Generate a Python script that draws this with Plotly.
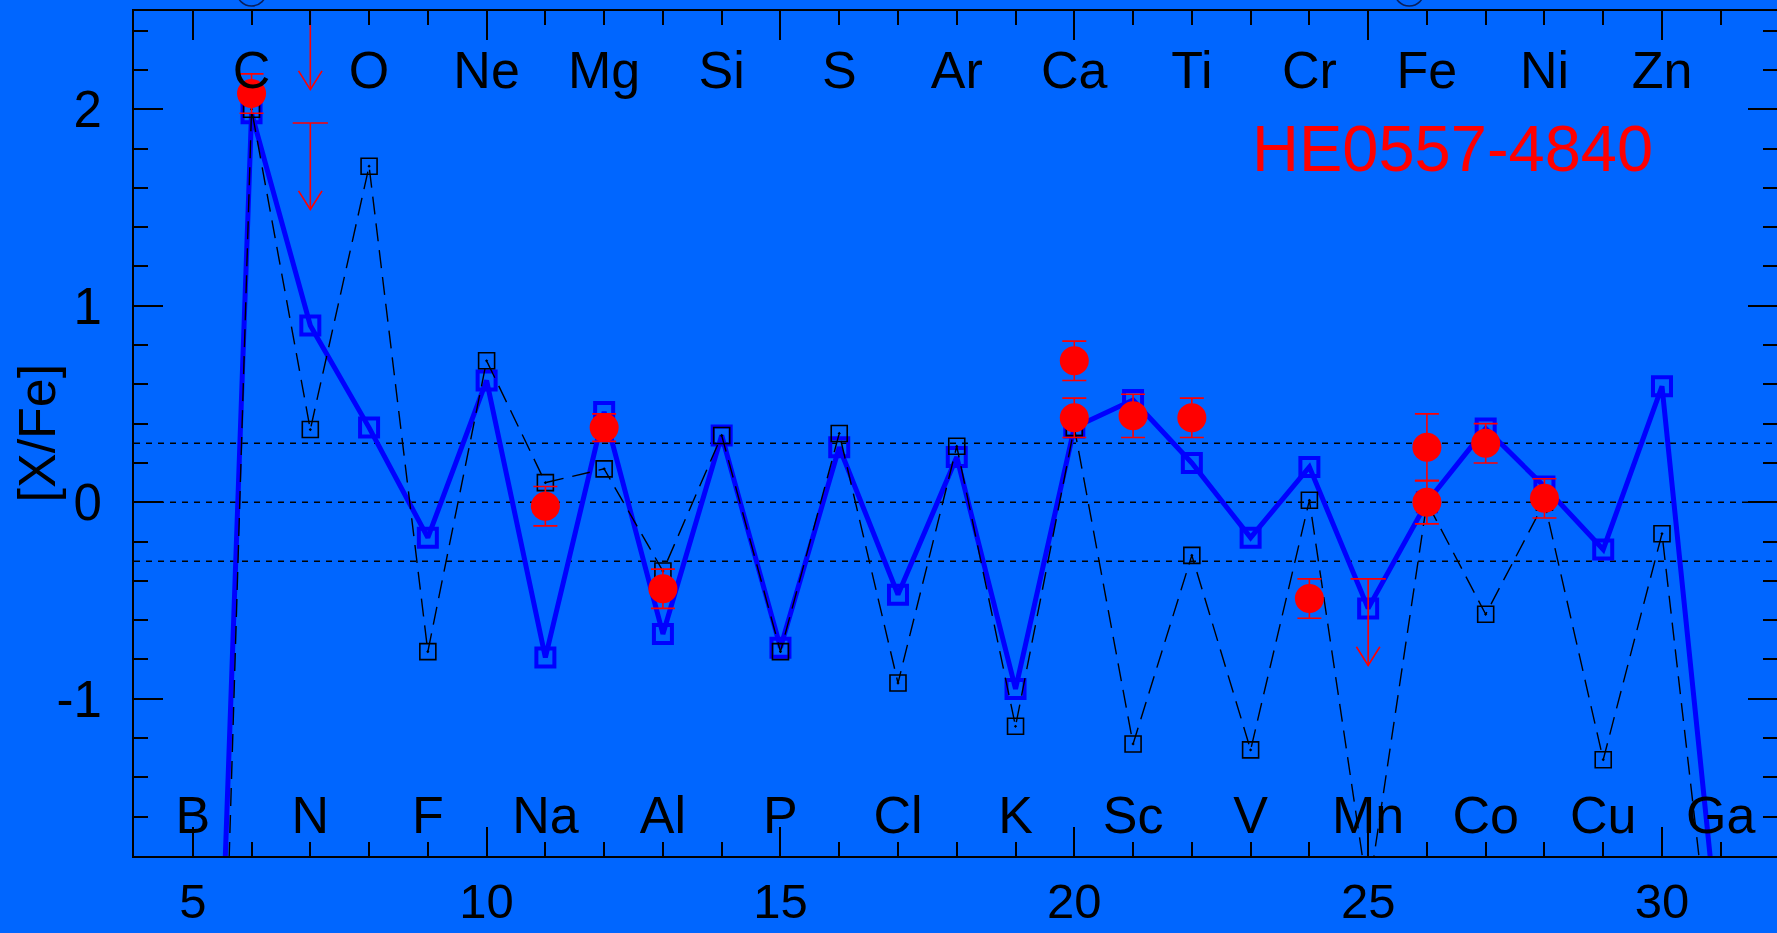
import numpy as np
import plotly.graph_objects as go

# ---------------- data ----------------
Z = list(range(5, 32))
# thick blue model
model_blue = [-6.5, 1.98, 0.90, 0.38, -0.18, 0.62, -0.79, 0.46, -0.67, 0.34, -0.74,
              0.28, -0.47, 0.23, -0.95, 0.38, 0.52, 0.20, -0.18, 0.18, -0.54,
              0.00, 0.375, 0.08, -0.24, 0.59, -2.33]
# thin dashed black model
model_black = [-8.0, 2.00, 0.37, 1.71, -0.76, 0.72, 0.10, 0.17, -0.35, 0.34, -0.76,
               0.35, -0.92, 0.285, -1.14, 0.38, -1.23, -0.27, -1.26, 0.01, -2.0,
               0.00, -0.57, 0.00, -1.31, -0.16, -2.77]

# observed abundances
obs_z = [6, 11, 12, 13, 20, 20, 21, 22, 24, 26, 26, 27, 28]
obs_val = [2.08, -0.02, 0.38, -0.44, 0.72, 0.43, 0.44, 0.43, -0.49, 0.28, 0.00, 0.30, 0.02]
obs_err = [0.10, 0.10, 0.07, 0.10, 0.10, 0.10, 0.11, 0.10, 0.10, 0.17, 0.11, 0.10, 0.10]

# upper limits
lim_z = [7, 7, 25]
lim_val = [2.54, 1.93, -0.39]

# element labels
top_z = [6, 8, 10, 12, 14, 16, 18, 20, 22, 24, 26, 28, 30]
top_lab = ["C", "O", "Ne", "Mg", "Si", "S", "Ar", "Ca", "Ti", "Cr", "Fe", "Ni", "Zn"]
bot_z = [5, 7, 9, 11, 13, 15, 17, 19, 21, 23, 25, 27, 29, 31]
bot_lab = ["B", "N", "F", "Na", "Al", "P", "Cl", "K", "Sc", "V", "Mn", "Co", "Cu", "Ga"]

ref_levels = [0.3, 0.0, -0.3]

x_ticks = [5, 10, 15, 20, 25, 30]
x_ticktext = ["5", "10", "15", "20", "25", "30"]
y_ticks = [-1, 0, 1, 2]
y_ticktext = ["-1", "0", "1", "2"]

star_name = "HE0557-4840"
y_title = "[X/Fe]"

# clipped legend symbols above the frame (x in Z units)
legend_sym_z = [6.0, 25.7]

# ---------------- style ----------------
BG = "#0066ff"
FONT = "Liberation Sans, Arial, Helvetica, sans-serif"
XR = [4, 31.957]
YR = [-1.8, 2.5]
TOP_Y, BOT_Y = 2.175, -1.618
PLOT_W, PLOT_H = 1643, 845

fig = go.Figure()

# reference levels
for lv in ref_levels:
    fig.add_shape(type="line", xref="x", yref="y", x0=XR[0], x1=XR[1], y0=lv, y1=lv,
                  line=dict(color="black", width=1.5, dash="6px,6px"), layer="below")

fig.add_trace(go.Scatter(
    x=Z, y=model_blue, mode="lines+markers",
    line=dict(color="#0000ff", width=5),
    marker=dict(symbol="square-open", size=18, color="#0000ff", line=dict(width=4, color="#0000ff")),
    showlegend=False, cliponaxis=True))

fig.add_trace(go.Scatter(
    x=Z, y=model_black, mode="lines+markers",
    line=dict(color="black", width=1.4, dash="18px,9px"),
    marker=dict(symbol="square-open-dot", size=16, color="black", line=dict(width=1.6, color="black")),
    showlegend=False, cliponaxis=True))

# upper limits built from the limit arrays
L, cap, ah_w, ah_h = 0.44, 0.30, 0.20, 0.095
ux, uy = [], []
for z, v in zip(lim_z, lim_val):
    ux += [z - cap, z + cap, None, z, z, None, z - ah_w, z, z + ah_w, None]
    uy += [v, v, None, v, v - L, None, v - L + ah_h, v - L, v - L + ah_h, None]
fig.add_trace(go.Scatter(x=ux, y=uy, mode="lines", line=dict(color="#ff0000", width=1.6),
                         showlegend=False, cliponaxis=True))

fig.add_trace(go.Scatter(
    x=obs_z, y=obs_val, mode="markers",
    marker=dict(symbol="circle", size=29, color="#ff0000", line=dict(width=0)),
    error_y=dict(type="data", array=obs_err, visible=True, color="#ff0000", thickness=1.6, width=12),
    showlegend=False, cliponaxis=True))

fig.add_trace(go.Scatter(x=top_z, y=[TOP_Y] * len(top_z), text=top_lab, mode="text",
                         textfont=dict(family=FONT, size=52, color="black"),
                         textposition="middle center", showlegend=False, cliponaxis=False))
fig.add_trace(go.Scatter(x=bot_z, y=[BOT_Y] * len(bot_z), text=bot_lab, mode="text",
                         textfont=dict(family=FONT, size=52, color="black"),
                         textposition="middle center", showlegend=False, cliponaxis=False))

fig.add_annotation(x=26.43, y=1.80, xref="x", yref="y", text=star_name, showarrow=False,
                   font=dict(family=FONT, size=65, color="#ff0000"), xanchor="center", yanchor="middle")

fig.add_annotation(x=-(134 - 36) / PLOT_W, y=0.35, xref="paper", yref="y", text=y_title,
                   showarrow=False, textangle=-90,
                   font=dict(family=FONT, size=52, color="black"), xanchor="center", yanchor="middle")

# partially visible legend circles above the top frame
r_px = 15
cy = 1 + 20 / PLOT_H
for zc in legend_sym_z:
    fig.add_shape(type="circle", xref="x", yref="paper",
                  x0=zc - r_px / 58.77, x1=zc + r_px / 58.77,
                  y0=cy - r_px / PLOT_H, y1=cy + r_px / PLOT_H,
                  line=dict(color="#0a1f5c", width=1.5))

axis_common = dict(showgrid=False, zeroline=False, showline=True, linecolor="black", linewidth=2,
                   mirror="ticks", ticks="inside", tickcolor="black", tickwidth=2, ticklen=29,
                   automargin=False)

fig.update_xaxes(range=XR, tickmode="array", tickvals=x_ticks, ticktext=x_ticktext,
                 minor=dict(dtick=1, tick0=0, ticks="inside", ticklen=14, tickwidth=2, tickcolor="black"),
                 ticklabelstandoff=1, tickfont=dict(family=FONT, size=49, color="black"),
                 **axis_common)
fig.update_yaxes(range=YR, tickmode="array", tickvals=y_ticks, ticktext=y_ticktext,
                 minor=dict(dtick=0.2, tick0=0, ticks="inside", ticklen=14, tickwidth=2, tickcolor="black"),
                 ticklabelstandoff=20, tickfont=dict(family=FONT, size=51, color="black"),
                 **axis_common)

fig.update_layout(width=1777, height=933, autosize=False,
                  margin=dict(l=134, r=0, t=11, b=77, pad=0),
                  paper_bgcolor=BG, plot_bgcolor=BG,
                  font=dict(family=FONT, color="black"))

fig.write_html("out.html")
